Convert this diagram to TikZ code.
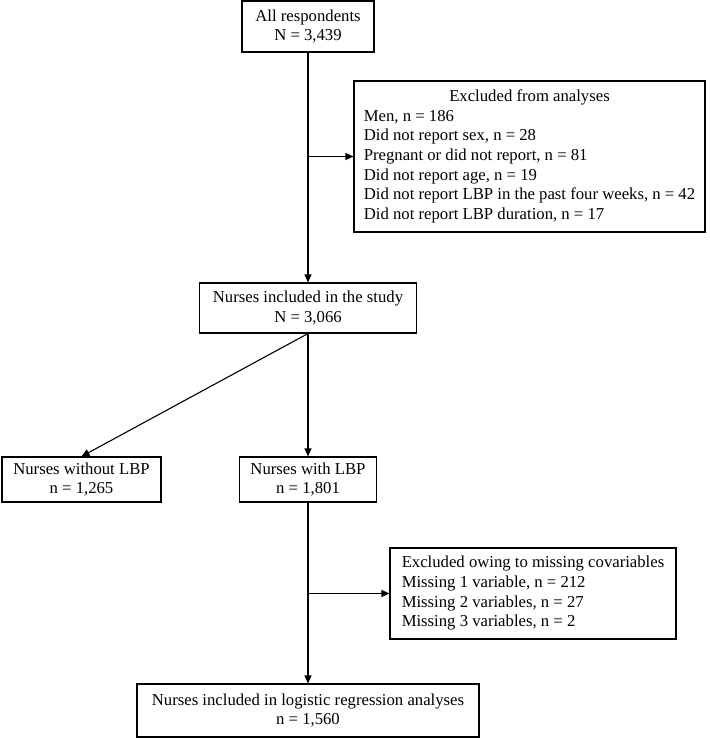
\documentclass[tikz,border=0pt]{standalone}
\usepackage{fontspec}
\setmainfont{Liberation Serif}
\usetikzlibrary{arrows.meta}
\begin{document}
\begin{tikzpicture}[x=1pt,y=-1pt,
  box/.style={draw, line width=1.1pt, inner sep=0pt, font=\fontsize{16.7}{19.7}\selectfont, align=center},
  conn/.style={line width=1.1pt, -{Triangle[length=8pt,width=7pt]}},
  plain/.style={line width=1.1pt}]
\useasboundingbox (0,0) rectangle (709,738);
\node[box, minimum width=132pt, minimum height=51pt] (all) at (308,26.5) {All respondents\\N = 3,439};
\node[box, minimum width=351pt, minimum height=151pt] (excl1) at (529.5,156.5) {\begin{tabular}{@{}l@{}}\multicolumn{1}{@{}c@{}}{Excluded from analyses}\\
Men, n = 186\\
Did not report sex, n = 28\\
Pregnant or did not report, n = 81\\
Did not report age, n = 19\\
Did not report LBP in the past four weeks, n = 42\\
Did not report LBP duration, n = 17\end{tabular}};
\node[box, minimum width=217pt, minimum height=50pt] (incl) at (308,308) {Nurses included in the study\\N = 3,066};
\node[box, minimum width=159pt, minimum height=45pt] (without) at (81.5,479.5) {Nurses without LBP\\n = 1,265};
\node[box, minimum width=137pt, minimum height=45pt] (with) at (308,479.5) {Nurses with LBP\\n = 1,801};
\node[box, minimum width=286pt, minimum height=91pt] (excl2) at (533,593.5) {\begin{tabular}{@{}l@{}}Excluded owing to missing covariables\\
Missing 1 variable, n = 212\\
Missing 2 variables, n = 27\\
Missing 3 variables, n = 2\end{tabular}};
\node[box, minimum width=342pt, minimum height=53pt] (final) at (308,710.5) {Nurses included in logistic regression analyses\\n = 1,560};
\coordinate (b1) at (all.south |- excl1.west);
\coordinate (b2) at (with.south |- excl2.west);
\draw[conn] (all.south) -- (incl.north);
\draw[conn] (b1) -- (excl1.west);
\draw[conn] (incl.south) -- (with.north);
\draw[conn] (incl.south) -- (without.north);
\draw[conn] (with.south) -- (final.north);
\draw[conn] (b2) -- (excl2.west);
\end{tikzpicture}
\end{document}
